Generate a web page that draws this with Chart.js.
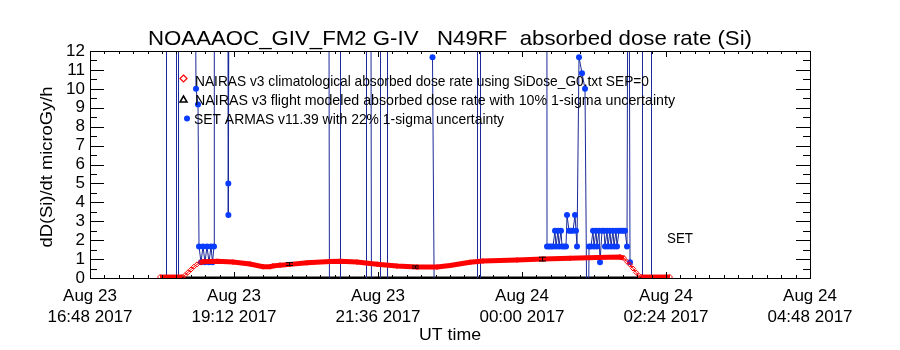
<!DOCTYPE html>
<html>
<head>
<meta charset="utf-8">
<script src="https://cdn.jsdelivr.net/npm/chart.js@4.4.0/dist/chart.umd.min.js"></script>
<style>
  html, body { margin: 0; padding: 0; background: #fff; }
  #wrap { width: 900px; height: 350px; }
</style>
</head>
<body>
<div id="wrap"><canvas id="c"></canvas></div>
<script>
'use strict';

// x values are minutes after Aug 23 2017 16:48 UT
const xTickMinutes = [0, 144, 288, 432, 576, 720];
const xTickLabels = [
    ['Aug 23', '16:48 2017'], ['Aug 23', '19:12 2017'], ['Aug 23', '21:36 2017'],
    ['Aug 24', '00:00 2017'], ['Aug 24', '02:24 2017'], ['Aug 24', '04:48 2017'],
];
const yTickValues = [0, 1, 2, 3, 4, 5, 6, 7, 8, 9, 10, 11, 12];
const yTickLabels = ['0', '1', '2', '3', '4', '5', '6', '7', '8', '9', '10', '11', '12'];

// NAIRAS v3 climatological dose rate
const climMin = [70, 92, 95, 98, 101, 104, 107, 110, 113, 127, 143, 160, 173, 180, 183, 190, 200, 217,
    240, 250, 267, 287, 307, 327, 347, 360, 380, 393, 427, 453, 480, 507, 530, 534, 537, 540, 543,
    546, 549, 551, 580];
const climVal = [0.05, 0.05, 0.15, 0.3, 0.45, 0.6, 0.72, 0.82, 0.86, 0.88, 0.84, 0.74, 0.6, 0.6, 0.64,
    0.68, 0.72, 0.8, 0.87, 0.88, 0.84, 0.73, 0.63, 0.58, 0.58, 0.66, 0.83, 0.9, 0.95, 1.0, 1.04,
    1.08, 1.11, 1.05, 0.86, 0.7, 0.5, 0.3, 0.12, 0.05, 0.05];

// NAIRAS v3 flight modeled dose rate (baseline + points with 10% error bars)
const flightMin = [70, 580];
const flightVal = [0, 0];
const flightErrMin = [199, 325, 452];
const flightErrVal = [0.74, 0.58, 1.0];

// SET ARMAS v11.39 (30 / -3 are off-scale readings, null = gap)
const setMin = [
    76.5, 76.5, null, 86.5, 86.5, null, 88.5, 88.5, null,
    104, 106, 108, 109, 111, 113, 115, 117, 119, 121, 122.5, 124, 124.3, null,
    138, 138.3, 138.4, 139.5, null,
    238.5, 239.5, null, 250.5, 250.5, null, 276.5, 276.5, null, 280.5, 281.5, null,
    290.5, 290.5, null, 297.5, 297.5, null,
    342.5, 344.5, null,
    387.5, 387.5, null, 390.5, 390.5, null,
    456.8, 457, 459, 461, 463, 465, 466, 468, 469, 471, 472, 474, 476, 477, 479, 481, 483, 485,
    486, 487, 489, 492, 495, 497, 498.5, 499, 501, 503, 504, 506, 507, 509, 510, 512, 514, 515,
    517, 518, 520, 521, 523, 524, 526, 527, 529, 531, 533, 535, 537, 538.5, 540, null,
    552.5, 552.5, null, 561.5, 561.5,
];
const setVal = [
    30, -3, null, 30, -3, null, 30, -3, null,
    30, 10.0, 9.17, 1.67, 0.83, 1.67, 0.83, 1.67, 0.83, 1.67, 0.83, 1.67, 30, null,
    30, 5.0, 3.33, 30, null,
    30, -3, null, 30, -3, null, 30, -3, null, 30, -3, null,
    30, -3, null, 30, -3, null,
    11.67, -3, null,
    30, -3, null, 30, -3, null,
    30, 1.67, 1.67, 1.67, 1.67, 2.5, 1.67, 2.5, 1.67, 2.5, 1.67, 1.67, 1.67, 3.33, 2.5, 2.5, 2.5, 3.33,
    2.5, 1.67, 11.67, 10.83, 10.0, -3, -3, 1.67, 1.67, 2.5, 1.67, 2.5, 1.67, 2.5, 0.83, 2.5, 2.5, 1.67,
    2.5, 1.67, 2.5, 1.67, 2.5, 1.67, 2.5, 1.67, 2.5, 2.5, 2.5, 2.5, 1.67, 30, 0.83, null,
    30, -3, null, 30, -3,
];

const legendItems = [
    'NAIRAS v3 climatological absorbed dose rate using SiDose_G0.txt SEP=0',
    'NAIRAS v3 flight modeled absorbed dose rate with 10% 1-sigma uncertainty',
    'SET ARMAS v11.39 with 22% 1-sigma uncertainty',
];
const titleText = 'NOAAAOC_GIV_FM2 G-IV   N49RF  absorbed dose rate (Si)';

const FONT = '"Liberation Sans", Arial, sans-serif';
const COLORS = {
    clim: '#ff0000',
    flight: '#000000',
    setLine: '#1a2a9a',
    setDot: '#0a3cff',
};

const pts = (xs, ys) => xs.map((x, i) => ({ x: x, y: ys[i] }));

// text squeezed/stretched to a measured width
function fitText(ctx, text, x, y, size, width, align, rot) {
    ctx.save();
    ctx.font = size + 'px ' + FONT;
    const w = ctx.measureText(text).width;
    ctx.translate(x, y);
    if (rot) ctx.rotate(rot);
    ctx.scale(width ? width / w : 1, 1);
    ctx.textAlign = align || 'left';
    ctx.textBaseline = 'alphabetic';
    ctx.fillStyle = '#000';
    ctx.fillText(text, 0, 0);
    ctx.restore();
}

const decorPlugin = {
    id: 'decor',
    afterDatasetsDraw(chart) {
        const { ctx, scales: { x, y } } = chart;
        // error bars of the flight modeled points
        ctx.save();
        ctx.strokeStyle = COLORS.flight;
        ctx.lineWidth = 1;
        flightErrMin.forEach((m, i) => {
            const px = Math.round(x.getPixelForValue(m)) + 0.5;
            const v = flightErrVal[i];
            const top = y.getPixelForValue(v * 1.1);
            const bot = y.getPixelForValue(v * 0.9);
            ctx.beginPath();
            ctx.moveTo(px, top); ctx.lineTo(px, bot);
            ctx.moveTo(px - 3.5, top); ctx.lineTo(px + 3.5, top);
            ctx.moveTo(px - 3.5, bot); ctx.lineTo(px + 3.5, bot);
            ctx.stroke();
        });
        ctx.restore();
    },
    afterDraw(chart) {
        const { ctx, chartArea: a, scales: { x, y } } = chart;
        ctx.save();
        ctx.strokeStyle = '#000';
        ctx.lineWidth = 1;
        ctx.strokeRect(Math.round(a.left) + 0.5, Math.round(a.top) + 0.5,
            Math.round(a.right - a.left), Math.round(a.bottom - a.top));
        ctx.beginPath();
        // y ticks, inward on both sides
        for (let v = 0; v <= 12; v += 0.5) {
            const py = Math.round(y.getPixelForValue(v)) + 0.5;
            const len = Number.isInteger(v) ? 14 : 7;
            ctx.moveTo(a.left, py); ctx.lineTo(a.left + len, py);
            ctx.moveTo(a.right, py); ctx.lineTo(a.right - len, py);
        }
        // x ticks, 10 minor per major
        for (let k = 0; k <= 50; k++) {
            const px = Math.round(x.getPixelForValue(k * 14.4)) + 0.5;
            const len = k % 10 === 0 ? 6 : 3;
            ctx.moveTo(px, a.bottom); ctx.lineTo(px, a.bottom - len);
            ctx.moveTo(px, a.top); ctx.lineTo(px, a.top + len);
        }
        ctx.stroke();

        // legend
        ctx.lineWidth = 1.2;
        ctx.strokeStyle = COLORS.clim;
        ctx.beginPath();
        ctx.moveTo(183.5, 75); ctx.lineTo(187, 78.5); ctx.lineTo(183.5, 82); ctx.lineTo(180, 78.5); ctx.closePath();
        ctx.stroke();
        ctx.strokeStyle = COLORS.flight;
        ctx.lineWidth = 1.5;
        ctx.beginPath();
        ctx.moveTo(183.5, 96); ctx.lineTo(187, 102); ctx.lineTo(180, 102); ctx.closePath();
        ctx.stroke();
        ctx.fillStyle = COLORS.setDot;
        ctx.beginPath();
        ctx.arc(187, 118.5, 3, 0, Math.PI * 2);
        ctx.fill();
        ctx.restore();

        fitText(ctx, legendItems[0], 195, 86, 15, 454);
        fitText(ctx, legendItems[1], 195, 105, 15, 480);
        fitText(ctx, legendItems[2], 194, 124, 15, 310);
        fitText(ctx, 'SET', 667, 243, 15, 26);

        // titles
        fitText(ctx, titleText, 450, 45, 21, 604, 'center');
        fitText(ctx, 'UT time', 450, 340, 17, 62, 'center');
        fitText(ctx, 'dD(Si)/dt microGy/h', 52, 167, 17, 161, 'center', -Math.PI / 2);
    },
};

new Chart(document.getElementById('c'), {
    type: 'line',
    data: {
        datasets: [
            {
                label: legendItems[0],
                data: pts(climMin, climVal),
                borderColor: COLORS.clim,
                backgroundColor: 'rgba(0,0,0,0)',
                borderWidth: 5,
                pointStyle: 'rectRot',
                pointRadius: 2.5,
                pointBorderWidth: 1,
                pointBorderColor: COLORS.clim,
                pointBackgroundColor: 'rgba(0,0,0,0)',
                segment: {
                    borderWidth: c => {
                        const dx = c.p1.parsed.x - c.p0.parsed.x;
                        return Math.abs((c.p1.parsed.y - c.p0.parsed.y) / dx) > 0.03 ? 1 : 5;
                    },
                },
                order: 1,
            },
            {
                label: legendItems[2],
                data: pts(setMin, setVal),
                borderColor: COLORS.setLine,
                borderWidth: 1,
                pointRadius: 3,
                pointBorderWidth: 0,
                pointBackgroundColor: COLORS.setDot,
                spanGaps: false,
                order: 2,
            },
            {
                label: legendItems[1],
                data: pts(flightMin, flightVal),
                borderColor: COLORS.flight,
                borderWidth: 3,
                pointRadius: 0,
                order: 3,
            },
        ],
    },
    options: {
        responsive: true,
        maintainAspectRatio: false,
        animation: false,
        layout: { padding: { left: 0, right: 90, top: 51, bottom: 0 } },
        plugins: { legend: { display: false }, tooltip: { enabled: false } },
        scales: {
            x: {
                type: 'linear',
                min: 0,
                max: 720,
                afterBuildTicks: s => { s.ticks = xTickMinutes.map(v => ({ value: v })); },
                afterFit: s => { s.height = 72; },
                ticks: {
                    autoSkip: false,
                    maxRotation: 0,
                    padding: 8,
                    color: '#000',
                    font: { family: FONT, size: 17, lineHeight: 1.235 },
                    callback: (v, i) => xTickLabels[i],
                },
                grid: { display: false, drawTicks: false },
                border: { display: false },
            },
            y: {
                min: 0,
                max: 12,
                afterBuildTicks: s => { s.ticks = yTickValues.map(v => ({ value: v })); },
                afterFit: s => { s.width = 90; },
                ticks: {
                    autoSkip: false,
                    padding: 5,
                    color: '#000',
                    font: { family: FONT, size: 17 },
                    callback: (v, i) => yTickLabels[i],
                },
                grid: { display: false, drawTicks: false },
                border: { display: false },
            },
        },
    },
    plugins: [decorPlugin],
});
</script>
</body>
</html>
